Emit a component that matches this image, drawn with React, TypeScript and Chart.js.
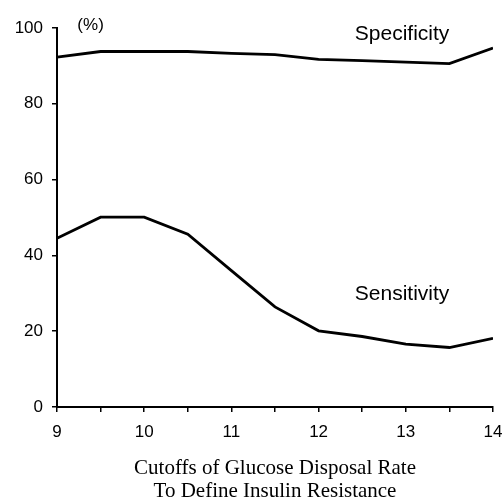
import React, { useEffect, useRef } from 'react';
import { Chart, registerables } from 'chart.js';

Chart.register(...registerables);

const cutoffs = [9, 9.5, 10, 10.5, 11, 11.5, 12, 12.5, 13, 13.5, 14];
const specificity = [92.3, 93.8, 93.8, 93.8, 93.3, 93.0, 91.7, 91.4, 91.0, 90.6, 94.7];
const sensitivity = [44.5, 50.1, 50.1, 45.6, 36.0, 26.4, 20.1, 18.6, 16.6, 15.7, 18.1];

const xTickValues = [9, 9.5, 10, 10.5, 11, 11.5, 12, 12.5, 13, 13.5, 14];
const xTickLabels = ['9', '', '10', '', '11', '', '12', '', '13', '', '14'];
const yTickValues = [0, 20, 40, 60, 80, 100];

const xTitle = ['Cutoffs of Glucose Disposal Rate', 'To Define Insulin Resistance'];

const labelTexts = ['(%)', 'Specificity', 'Sensitivity'];
const labelX = [9.385, 12.957, 12.957];
const labelY = [100.6, 98.4, 29.8];
const labelSizes = [17, 21, 21];

const annotationPlugin = {
  id: 'textLabels',
  afterDatasetsDraw(chart: any) {
    const { ctx, scales } = chart;
    ctx.save();
    ctx.fillStyle = '#000';
    ctx.textAlign = 'center';
    ctx.textBaseline = 'middle';
    labelTexts.forEach((t, i) => {
      ctx.font = `${labelSizes[i]}px "Liberation Sans", Arial, sans-serif`;
      ctx.fillText(t, scales.x.getPixelForValue(labelX[i]), scales.y.getPixelForValue(labelY[i]));
    });
    ctx.restore();
  },
};

export default function App() {
  const ref = useRef<HTMLCanvasElement>(null);
  useEffect(() => {
    if (!ref.current) return;
    const chart = new Chart(ref.current, {
      type: 'line',
      data: {
        datasets: [
          {
            label: 'Specificity',
            data: cutoffs.map((x, i) => ({ x, y: specificity[i] })),
            borderColor: '#000',
            borderWidth: 2.8,
            pointRadius: 0,
            tension: 0,
            fill: false,
          },
          {
            label: 'Sensitivity',
            data: cutoffs.map((x, i) => ({ x, y: sensitivity[i] })),
            borderColor: '#000',
            borderWidth: 2.8,
            pointRadius: 0,
            tension: 0,
            fill: false,
          },
        ],
      },
      options: {
        responsive: false,
        animation: false,
        layout: { padding: { top: 28, right: 11, left: 0, bottom: 0 } },
        plugins: { legend: { display: false }, tooltip: { enabled: false } },
        scales: {
          x: {
            type: 'linear',
            min: 9,
            max: 14,
            afterBuildTicks: (scale: any) => {
              scale.ticks = xTickValues.map((v) => ({ value: v }));
            },
            afterFit: (scale: any) => {
              scale.height = 96;
              scale.paddingRight = 0;
              scale.paddingLeft = 0;
            },
            ticks: {
              autoSkip: false,
              maxRotation: 0,
              padding: 10,
              color: '#000',
              font: { family: '"Liberation Sans", Arial, sans-serif', size: 17 },
              callback: (value: any) => {
                const idx = xTickValues.indexOf(Number(value));
                return idx >= 0 ? xTickLabels[idx] : '';
              },
            },
            grid: {
              drawOnChartArea: false,
              drawTicks: true,
              tickLength: 5,
              color: '#000',
              lineWidth: 1.5,
            },
            border: { display: true, color: '#000', width: 2 },
            title: {
              display: true,
              text: xTitle,
              color: '#000',
              font: { family: '"Liberation Serif", "Times New Roman", serif', size: 21, lineHeight: 1.1 },
              padding: { top: 0, bottom: 0 },
            },
          },
          y: {
            type: 'linear',
            min: 0,
            max: 100,
            afterBuildTicks: (scale: any) => {
              scale.ticks = yTickValues.map((v) => ({ value: v }));
            },
            afterFit: (scale: any) => {
              scale.width = 57;
            },
            ticks: {
              padding: 9,
              color: '#000',
              font: { family: '"Liberation Sans", Arial, sans-serif', size: 17 },
            },
            grid: {
              drawOnChartArea: false,
              drawTicks: true,
              tickLength: 5,
              color: '#000',
              lineWidth: 1.5,
            },
            border: { display: true, color: '#000', width: 2 },
          },
        },
      },
      plugins: [annotationPlugin],
    });
    return () => chart.destroy();
  }, []);
  return (
    <div style={{ position: 'absolute', left: 0, top: 0, width: 504, height: 503, background: '#fff' }}>
      <canvas ref={ref} width={504} height={503} />
    </div>
  );
}
